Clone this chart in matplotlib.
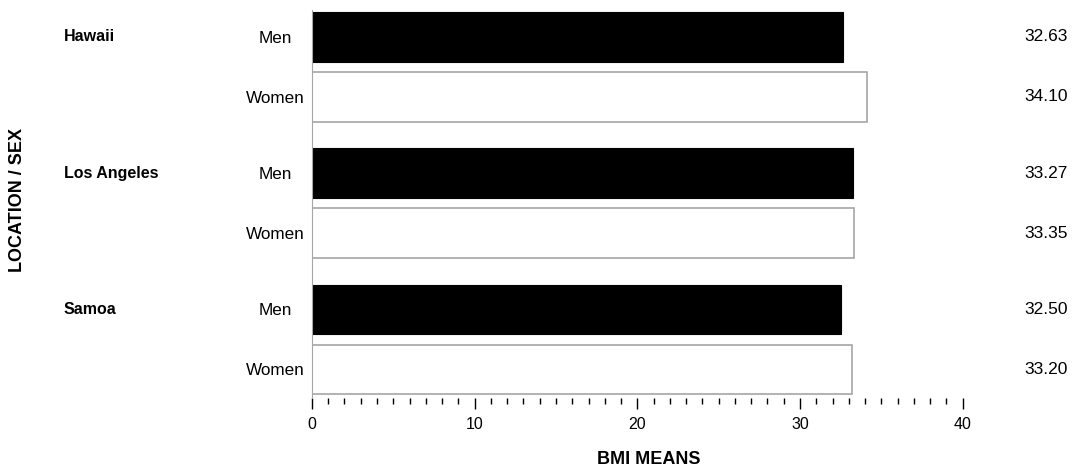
import matplotlib.pyplot as plt
import matplotlib.transforms as mtransforms
import numpy as np

plt.rcParams['font.family'] = ['Liberation Sans', 'DejaVu Sans']

locations = ["Hawaii", "Los Angeles", "Samoa"]
sexes = ["Men", "Women"]
men_bmi = [32.63, 33.27, 32.50]
women_bmi = [34.10, 33.35, 33.20]

fig = plt.figure(figsize=(10.72, 4.66), dpi=100)
ax = fig.add_axes([0.291, 0.146, 0.607, 0.8326])

grp = np.arange(len(locations)) * 2.27
y_men = grp
y_women = grp + 1.0
h = 0.82

ax.barh(y_men, men_bmi, height=h, color="black", edgecolor="black", linewidth=0.8)
ax.barh(y_women, women_bmi, height=h, color="white", edgecolor="#a6a6a6", linewidth=1.2)

ax.set_xlim(0, 40)
ax.set_ylim(6.02, -0.45)

ax.set_xticks(np.arange(0, 41, 10))
ax.set_xticks(np.arange(0, 41, 1), minor=True)
ax.tick_params(axis="x", which="major", length=8, width=1, pad=6, labelsize=11.5, colors="black")
ax.tick_params(axis="x", which="minor", length=4, width=1)

yt = np.concatenate([y_men, y_women])
ax.set_yticks(yt)
ax.set_yticklabels(["Men"] * 3 + ["Women"] * 3)
ax.tick_params(axis="y", length=0, pad=26.6, labelsize=12.3)
for lab in ax.get_yticklabels():
    lab.set_horizontalalignment("center")

for s in ["top", "right", "bottom"]:
    ax.spines[s].set_visible(False)
ax.spines["left"].set_color("#a6a6a6")

trans = mtransforms.blended_transform_factory(fig.transFigure, ax.transData)
for y, name in zip(grp, locations):
    ax.text(64 / 1072, y, name, transform=trans, ha="left", va="center",
            fontsize=11.5, fontweight="bold")
for y, v in zip(y_men, men_bmi):
    ax.text(1046 / 1072, y, f"{v:.2f}", transform=trans, ha="center", va="center", fontsize=12.5)
for y, v in zip(y_women, women_bmi):
    ax.text(1046 / 1072, y, f"{v:.2f}", transform=trans, ha="center", va="center", fontsize=12.5)

fig.text(18 / 1072, 1 - 200 / 466, "LOCATION / SEX", rotation=90, ha="center", va="center",
         fontsize=13, fontweight="bold")
fig.text(649 / 1072, 1 - 459 / 466, "BMI MEANS", ha="center", va="center",
         fontsize=13, fontweight="bold")

fig.savefig("out.png", dpi=100)
